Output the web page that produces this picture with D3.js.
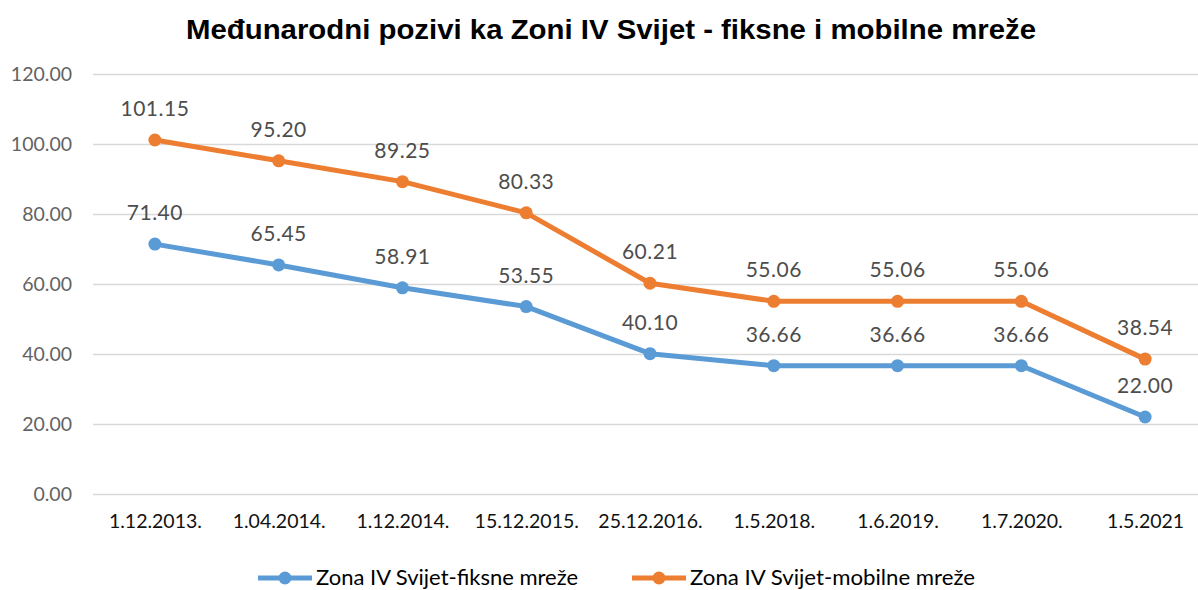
<!DOCTYPE html>
<html>
<head>
<meta charset="utf-8">
<script src="https://cdn.jsdelivr.net/npm/d3@7"></script>
<style>
  body { margin: 0; background: #fff; }
  svg { display: block; }
  .ax text { font-family: Lato, 'Open Sans', sans-serif; }
</style>
</head>
<body>
<svg id="chart" width="1198" height="590"></svg>
<script>
// chart data
var categories = ['1.12.2013.', '1.04.2014.', '1.12.2014.', '15.12.2015.', '25.12.2016.', '1.5.2018.', '1.6.2019.', '1.7.2020.', '1.5.2021']
var fiksne = [71.40, 65.45, 58.91, 53.55, 40.10, 36.66, 36.66, 36.66, 22.00]
var mobilne = [101.15, 95.20, 89.25, 80.33, 60.21, 55.06, 55.06, 55.06, 38.54]
var yTicks = [0, 20, 40, 60, 80, 100, 120]
var seriesNames = ['Zona IV Svijet-fiksne mreže', 'Zona IV Svijet-mobilne mreže']
var colors = ['#5B9BD5', '#ED7D31']

var svg = d3.select('#chart')
var width = 1198

// plot area
var plot = {left: 93, right: 1207, top: 74, bottom: 494}

var mapx = d3.scalePoint()
    .domain(categories)
    .range([plot.left, plot.right])
    .padding(0.5)

var mapy = d3.scaleLinear()
    .domain([0, 120])
    .range([plot.bottom, plot.top])

// title
svg.append('text')
    .attr('x', 611)
    .attr('y', 39)
    .attr('text-anchor', 'middle')
    .attr('textLength', 850)
    .attr('lengthAdjust', 'spacingAndGlyphs')
    .style('font-family', "'Liberation Sans', Arial, sans-serif")
    .style('font-weight', 'bold')
    .style('font-size', '28px')
    .style('fill', '#000')
    .text('Međunarodni pozivi ka Zoni IV  Svijet - fiksne i mobilne mreže')

// gridlines + y labels
var yAxis = d3.axisLeft(mapy)
    .tickValues(yTicks)
    .tickSize(-(width - plot.left))
    .tickPadding(21)
    .tickFormat(d3.format('.2f'))

svg.append('g')
    .classed('ax y', true)
    .attr('transform', `translate(${plot.left},0)`)
    .call(yAxis)
    .call(g => g.select('.domain').remove())
    .call(g => g.selectAll('line').attr('stroke', '#D9D9D9').attr('stroke-width', 1.5))
    .call(g => g.selectAll('text').style('font-size', '19.5px').style('fill', '#636363'))

// x labels
var xAxis = d3.axisBottom(mapx).tickSize(0).tickPadding(20)

svg.append('g')
    .classed('ax x', true)
    .attr('transform', `translate(0,${plot.bottom})`)
    .call(xAxis)
    .call(g => g.select('.domain').remove())
    .call(g => g.selectAll('text').style('font-size', '19.5px').style('fill', '#111'))

// series
var series = [fiksne, mobilne]
var line = d3.line()
    .x((d, i) => mapx(categories[i]))
    .y(d => mapy(d))

series.forEach(function (values, s) {
  var g = svg.append('g').classed('series', true)

  g.append('path')
      .datum(values)
      .attr('d', line)
      .attr('fill', 'none')
      .attr('stroke', colors[s])
      .attr('stroke-width', 5)
      .attr('stroke-linejoin', 'round')

  g.selectAll('circle')
      .data(values)
      .enter()
      .append('circle')
      .attr('cx', (d, i) => mapx(categories[i]))
      .attr('cy', d => mapy(d))
      .attr('r', 6.5)
      .attr('fill', colors[s])

  g.selectAll('text')
      .data(values)
      .enter()
      .append('text')
      .attr('x', (d, i) => mapx(categories[i]))
      .attr('y', d => mapy(d) - 24)
      .attr('text-anchor', 'middle')
      .style('font-family', "Lato, 'Open Sans', sans-serif")
      .style('font-size', '21px')
      .style('letter-spacing', '0.5px')
      .style('fill', '#4d4d4d')
      .text(d => d3.format('.2f')(d))
})

// legend
var legendItems = [{x: 258, w: 262}, {x: 632, w: 285}]
legendItems.forEach(function (item, s) {
  var g = svg.append('g')
      .classed('legend', true)
      .attr('transform', `translate(${item.x},578)`)
  g.append('line')
      .attr('x1', 0).attr('x2', 54)
      .attr('stroke', colors[s])
      .attr('stroke-width', 5)
  g.append('circle')
      .attr('cx', 27)
      .attr('r', 6.5)
      .attr('fill', colors[s])
  g.append('text')
      .attr('x', 58)
      .attr('dy', '0.35em')
      .attr('textLength', item.w)
      .attr('lengthAdjust', 'spacingAndGlyphs')
      .style('font-family', "Lato, 'Open Sans', sans-serif")
      .style('font-size', '21px')
      .style('fill', '#000')
      .text(seriesNames[s])
})
</script>
</body>
</html>
